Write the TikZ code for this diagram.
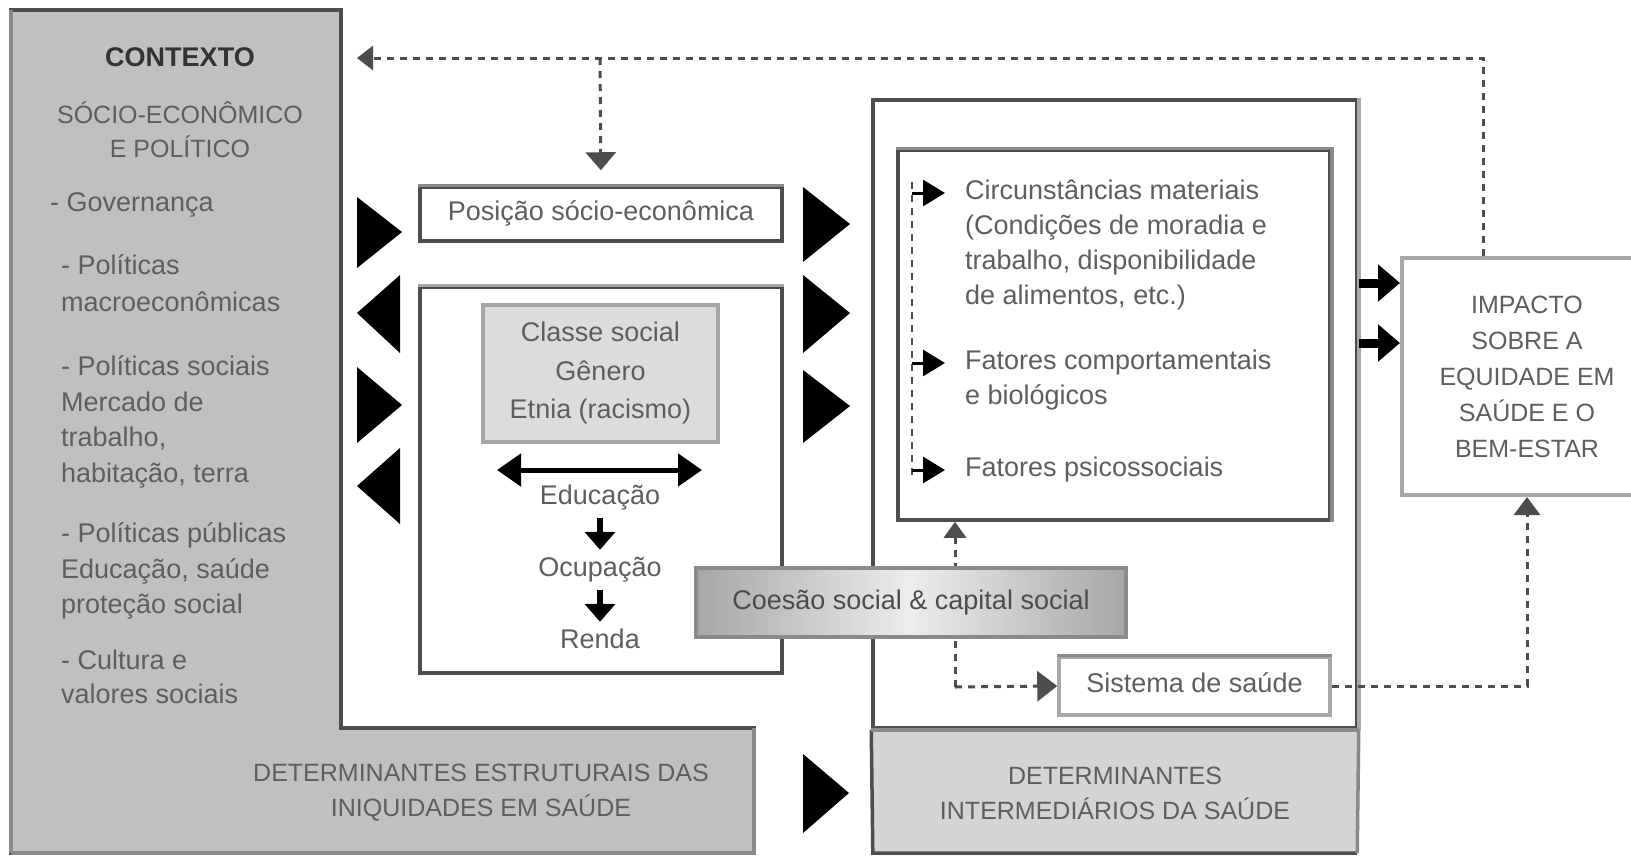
\documentclass[tikz,border=0pt]{standalone}
\usepackage{fontspec}
\setmainfont{Liberation Sans}
\usetikzlibrary{arrows.meta}
\definecolor{lgray}{HTML}{BFC0C1}
\definecolor{rgray}{HTML}{D3D4D4}
\definecolor{dline}{HTML}{4D4D4D}
\definecolor{mline}{HTML}{8A8A8A}
\definecolor{pline}{HTML}{A8A8A8}
\definecolor{tcol}{HTML}{5E5E5E}
\definecolor{cfill}{HTML}{DCDCDC}
\definecolor{shedge}{HTML}{A6A6A6}
\definecolor{shmid}{HTML}{EDEDED}
\begin{document}
\begin{tikzpicture}[x=1pt,y=-1pt,
  ttext/.style={inner sep=0pt, text=tcol, font=\fontsize{27}{33}\selectfont, text height=19pt, text depth=6pt},
  ctext/.style={ttext, font=\fontsize{25}{30}\selectfont},
  mtext/.style={inner sep=0pt, text=tcol, align=center},
  boxframe/.style={draw=dline, line width=3.5pt, fill=white, inner sep=0pt},
  dashcon/.style={draw=dline, line width=3pt, dash pattern=on 7pt off 6pt},
  tipS/.style={-{Triangle[length=16pt,width=24pt]}},
  bigtri/.style={fill=black},
  fatarr/.style={line width=9pt, -{Triangle[length=22pt,width=36pt]}},
  downarr/.style={line width=6pt, -{Triangle[length=18pt,width=30pt]}, shorten <=7.5pt, shorten >=7.5pt},
  itemarr/.style={line width=3pt, -{Triangle[length=22pt,width=26pt]}, shorten >=20pt}
]
\useasboundingbox (0,0) rectangle (1631,857);
\clip (0,0) rectangle (1631,857);
\fill[white] (0,0) rectangle (1631,857);

% ---------- left L-shaped context block ----------
\draw[fill=lgray, draw=dline, line width=3.5pt]
  (11,10) -- (341,10) -- (341,728) -- (754,728) -- (754,853) -- (11,853) -- cycle;
\draw[mline, line width=3.5pt] (11,10) -- (11,853);
\draw[mline, line width=3.5pt] (754,728) -- (754,853) -- (11,853);

\node[ttext, font=\bfseries\fontsize{27}{33}\selectfont, text=black!80] (ctx1) at (180,60) {CONTEXTO};
\node[ctext] (ctx2) at (180,117) {SÓCIO-ECONÔMICO};
\node[ctext] (ctx3) at (180,151) {E POLÍTICO};
\node[ttext, anchor=west] (g1) at (50,205) {- Governança};
\node[ttext, anchor=west] (p1) at (61,268) {- Políticas};
\node[ttext, anchor=west] (p2) at (61,305) {macroeconômicas};
\node[ttext, anchor=west] (s1) at (61,369) {- Políticas sociais};
\node[ttext, anchor=west] (s2) at (61,405) {Mercado de};
\node[ttext, anchor=west] (s3) at (61,440) {trabalho,};
\node[ttext, anchor=west] (s4) at (61,476) {habitação, terra};
\node[ttext, anchor=west] (u1) at (61,536) {- Políticas públicas};
\node[ttext, anchor=west] (u2) at (61,572) {Educação, saúde};
\node[ttext, anchor=west] (u3) at (61,607) {proteção social};
\node[ttext, anchor=west] (c1) at (61,663) {- Cultura e};
\node[ttext, anchor=west] (c2) at (61,697) {valores sociais};

\node[mtext, font=\fontsize{25}{35}\selectfont] (lbottom) at (481,793)
  {DETERMINANTES ESTRUTURAIS DAS\\INIQUIDADES EM SAÚDE};

% ---------- big triangles ----------
\fill[bigtri] (357,197) -- (357,268) -- (402,232) -- cycle;
\fill[bigtri] (400,275) -- (400,353) -- (357,313) -- cycle;
\fill[bigtri] (357,367) -- (357,443) -- (402,405) -- cycle;
\fill[bigtri] (400,448) -- (400,524) -- (357,486) -- cycle;
\fill[bigtri] (803,187) -- (803,262) -- (850,224) -- cycle;
\fill[bigtri] (803,275) -- (803,353) -- (850,313) -- cycle;
\fill[bigtri] (803,370) -- (803,443) -- (850,406) -- cycle;
\fill[bigtri] (803,754) -- (803,833) -- (849,793) -- cycle;

% ---------- middle column ----------
\node[boxframe, minimum width=362pt, minimum height=54pt, ttext] (pos) at (601,214) {Posição sócio-econômica};
\draw[mline, line width=3.5pt] (pos.north west) -- (pos.north east);

\node[boxframe, minimum width=362pt, minimum height=386pt] (spbox) at (601,480) {};
\draw[pline, line width=3.5pt] (spbox.north west) -- (spbox.north east);

\node[draw=shedge, fill=cfill, line width=4pt, minimum width=235pt, minimum height=137pt,
      mtext, font=\fontsize{27}{38.5}\selectfont] (classe) at (600.5,373.5)
  {Classe social\\Gênero\\Etnia (racismo)};

\coordinate (dl) at (497,470);
\coordinate (dr) at (702,470);
\draw[line width=5pt, {Triangle[length=24pt,width=32pt]}-{Triangle[length=24pt,width=32pt]}] (dl) -- (dr);

\node[ttext] (educ) at (600,498) {Educação};
\node[ttext] (ocup) at (600,570) {Ocupação};
\node[ttext] (renda) at (600,642) {Renda};
\draw[downarr] (educ) -- (ocup);
\draw[downarr] (ocup) -- (renda);

% ---------- right intermediate block ----------
\node[fill=rgray, minimum width=484pt, minimum height=125pt, inner sep=0pt] (rbottom) at (1115,790.5) {};
\node[mtext, font=\fontsize{25}{35}\selectfont] (rbtext) at (1115,793)
  {DETERMINANTES\\INTERMEDIÁRIOS DA SAÚDE};
\node[boxframe, minimum width=484pt, minimum height=628pt] (rbox) at (1115,414) {};
\draw[dline, line width=3.5pt] (rbox.south west) -- (rbottom.south west) -- (rbottom.south east);
\draw[pline, line width=3.5pt] (rbox.north east) -- (rbox.south east);
\draw[mline, line width=3.5pt] (rbox.south east) -- (rbottom.south east);
\draw[mline, line width=3.5pt] (rbox.south west) -- (rbox.south east);

\node[boxframe, minimum width=432pt, minimum height=370pt] (inner) at (1114,335) {};
\draw[mline, line width=3.5pt] (inner.north west) -- (inner.north east) -- (inner.south east);

\node[ttext, anchor=west] (m1) at (965,193) {Circunstâncias materiais};
\node[ttext, anchor=west] (m2) at (965,228) {(Condições de moradia e};
\node[ttext, anchor=west] (m3) at (965,263) {trabalho, disponibilidade};
\node[ttext, anchor=west] (m4) at (965,298) {de alimentos, etc.)};
\node[ttext, anchor=west] (f1) at (965,363) {Fatores comportamentais};
\node[ttext, anchor=west] (f2) at (965,398) {e biológicos};
\node[ttext, anchor=west] (f3) at (965,470) {Fatores psicossociais};

\coordinate (brtop) at (912,182);
\coordinate (brbot) at (912,480);
\draw[dashcon, line width=2.5pt] (brtop) -- (brbot);
\draw[itemarr] (912,193) -- (m1.west);
\draw[itemarr] (912,363) -- (f1.west);
\draw[itemarr] (912,470) -- (f3.west);

% ---------- IMPACTO ----------
\node[draw=pline, line width=4pt, fill=white, minimum width=250pt, minimum height=237pt,
      mtext, font=\fontsize{25}{36}\selectfont] (impact) at (1527,376.5)
  {IMPACTO\\SOBRE A\\EQUIDADE EM\\SAÚDE E O\\BEM-ESTAR};
\draw[fatarr] ([yshift=-27pt]impact.north west -| rbox.east) -- ([yshift=-27pt]impact.north west);
\draw[fatarr] ([yshift=-87pt]impact.north west -| rbox.east) -- ([yshift=-87pt]impact.north west);

% ---------- feedback dashed line ----------
\coordinate (fbend) at (357,58);
\coordinate (fbsplit) at (600,58);
\draw[dashcon, tipS] ([xshift=-44pt]impact.north) |- (fbend);
\draw[dashcon, -{Triangle[length=18pt,width=30pt]}, shorten >=15pt] (fbsplit) -- (pos.north);

% ---------- health system ----------
\node[draw=pline, line width=3.5pt, fill=white, minimum width=271pt, minimum height=58pt, ttext] (sis) at (1194.5,686) {Sistema de saúde};
\draw[mline, line width=3.5pt] (sis.north west) -- (sis.north east);
\coordinate (jn) at (955,687);
\draw[dashcon, -{Triangle[length=20pt,width=30pt]}] (jn) -- (sis.west);
\draw[dashcon, -{Triangle[length=16pt,width=22pt]}] (jn) -- (inner.south -| jn);
\draw[dashcon, -{Triangle[length=18pt,width=26pt]}] (sis.east) -| (impact.south);

% ---------- social cohesion ----------
\node[draw=mline, line width=3.5pt, left color=shedge, right color=shedge, middle color=shmid,
      minimum width=430pt, minimum height=69pt, ttext, text=black!70] (coes) at (911,602.5)
  {Coesão social \& capital social};
\end{tikzpicture}
\end{document}
